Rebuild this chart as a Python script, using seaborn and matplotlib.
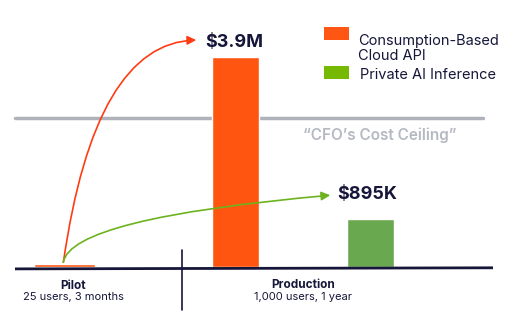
import matplotlib
matplotlib.use("Agg")
import matplotlib.pyplot as plt
import seaborn as sns
from matplotlib.patches import FancyArrowPatch, Rectangle

# --- Data (costs in $K) ---
series = ["Consumption-Based\nCloud API", "Private AI Inference"]
pilot_cost = [55]            # cloud API, pilot
production_costs = [3900, 895]  # cloud API, private inference
value_labels = ["$3.9M", "$895K"]
cost_ceiling = 2770
phase_titles = ["Pilot", "Production"]
phase_subtitles = ["25 users, 3 months", "1,000 users, 1 year"]

# --- Style ---
sns.set_theme(style="white")
plt.rcParams["font.family"] = ["Inter", "DejaVu Sans"]

navy = "#16163a"
bar_orange = "#ff5510"
bar_green = "#6aa84f"
legend_colors = ["#ff5713", "#76b900"]
arrow_colors = ["#ff3b14", "#6db31f"]
grey = "#aeb2ba"

fig = plt.figure(figsize=(5.12, 3.16), dpi=100)
ax = fig.add_axes([0, 0, 1, 1])
ax.set_xlim(0, 512)
ax.set_ylim(-910, 4958)
ax.axis("off")

# bars
ax.bar([64.5], pilot_cost, width=61, color=bar_orange, zorder=3)
ax.bar([235.5], [production_costs[0]], width=47, color=bar_orange, zorder=3)
ax.bar([370.5], [production_costs[1]], width=47, color=bar_green, zorder=3)

# baseline and divider
ax.plot([15, 493], [-35, -15], color=navy, lw=2, zorder=4, solid_capstyle="butt")
ax.plot([182, 182], [320, -800], color=navy, lw=1.2, zorder=4)

# cost ceiling
ax.plot([15, 483], [cost_ceiling, cost_ceiling], color=grey, lw=2.5, zorder=2)
ax.text(380, 2450, "\u201cCFO\u2019s Cost Ceiling\u201d", color="#b5b9c1",
        fontsize=11, fontweight="semibold", ha="center", va="center")

# value labels
ax.text(234, 4160, value_labels[0], color=navy, fontsize=13,
        fontweight="bold", ha="center", va="center")
ax.text(367, 1337, value_labels[1], color=navy, fontsize=13,
        fontweight="bold", ha="center", va="center")

# curved arrows from the pilot bar
ax.add_patch(FancyArrowPatch((63, 37), (199, 4215),
                             connectionstyle="angle3,angleA=82,angleB=0",
                             arrowstyle="-|>", mutation_scale=13,
                             color=arrow_colors[0], lw=1.2, zorder=5))
ax.add_patch(FancyArrowPatch((63, 37), (333, 1337),
                             connectionstyle="angle3,angleA=90,angleB=5",
                             arrowstyle="-|>", mutation_scale=13,
                             color=arrow_colors[1], lw=1.2, zorder=5))

# phase labels
ax.text(73, -350, phase_titles[0], color=navy, fontsize=8.5,
        fontweight="bold", ha="center", va="center")
ax.text(73, -565, phase_subtitles[0], color=navy, fontsize=8,
        ha="center", va="center")
ax.text(303, -330, phase_titles[1], color=navy, fontsize=8.5,
        fontweight="bold", ha="center", va="center")
ax.text(303, -565, phase_subtitles[1], color=navy, fontsize=8,
        ha="center", va="center")

# legend
ax.add_patch(Rectangle((324, 4215), 25, 240, color=legend_colors[0], lw=0))
ax.text(358, 4330, series[0], color=navy, fontsize=10.5,
        ha="left", va="top", linespacing=1.1)
ax.add_patch(Rectangle((324, 3495), 25, 240, color=legend_colors[1], lw=0))
ax.text(360, 3560, series[1], color=navy, fontsize=10.5,
        ha="left", va="center")

fig.savefig("out.png", dpi=100)
